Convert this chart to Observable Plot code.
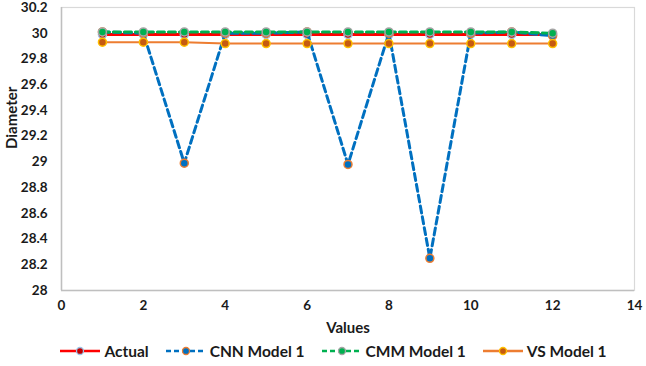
<!DOCTYPE html>
<html>
<head>
<meta charset="utf-8">
<script src="https://cdn.jsdelivr.net/npm/d3@7"></script>
<script src="https://cdn.jsdelivr.net/npm/@observablehq/plot@0.6"></script>
<style>
  html, body { margin: 0; padding: 0; background: #fff; }
  #chart { width: 646px; }
  .legend {
    display: flex; align-items: center; justify-content: center;
    height: 30px; margin-left: 36px;
    font-family: Lato, "Open Sans", sans-serif; font-weight: bold; font-size: 15.5px; color: #1a1a1a;
  }
  .legend .item { display: flex; align-items: center; margin-right: 16px; }
  .legend svg { margin-right: 3px; }
</style>
</head>
<body>
<div id="chart"></div>
<script>
// Sample index along the x axis
const samples = [1, 2, 3, 4, 5, 6, 7, 8, 9, 10, 11, 12];

// Measured / predicted diameters for each sample
const actual   = [29.99, 29.99, 29.99, 29.99, 29.99, 29.99, 29.99, 29.99, 29.99, 29.99, 29.99, 29.99];
const cnnModel = [30.01, 30.00, 28.99, 30.00, 30.00, 30.01, 28.98, 30.00, 28.25, 30.00, 30.01, 29.98];
const cmmModel = [30.01, 30.01, 30.01, 30.01, 30.01, 30.01, 30.01, 30.01, 30.01, 30.01, 30.01, 30.00];
const vsModel  = [29.93, 29.93, 29.93, 29.92, 29.92, 29.92, 29.92, 29.92, 29.92, 29.92, 29.92, 29.92];

const seriesNames = ["Actual", "CNN Model 1", "CMM Model 1", "VS Model 1"];
const xTicks = [0, 2, 4, 6, 8, 10, 12, 14];
const yTicks = [28, 28.2, 28.4, 28.6, 28.8, 29, 29.2, 29.4, 29.6, 29.8, 30, 30.2];

// Styling per series: line colour, dash, marker fill and marker outline
const styles = [
  {line: "#ff0000", width: 3,   dash: null,  fill: "#c00000", outline: "#9dc3e6"},
  {line: "#0070c0", width: 3,   dash: "7,4", fill: "#0070c0", outline: "#ed7d31"},
  {line: "#00b050", width: 3,   dash: "7,4", fill: "#00b050", outline: "#a5a5a5"},
  {line: "#ed7d31", width: 2.2, dash: null,  fill: "#c55a11", outline: "#ffc000"}
];

const values = [actual, cnnModel, cmmModel, vsModel];
const table = seriesNames.map((name, i) =>
  samples.map((s, j) => ({series: name, x: s, y: values[i][j]}))
);

const marks = [
  Plot.frame({stroke: "#d9d9d9", strokeWidth: 1.2}),
  Plot.ruleX([0], {stroke: "#bfbfbf", strokeWidth: 1.5}),
  Plot.ruleY([28], {stroke: "#bfbfbf", strokeWidth: 1.5}),
  Plot.axisX({ticks: xTicks, tickSize: 0, tickPadding: 10, tickFormat: d => String(d), label: null}),
  Plot.axisY({ticks: yTicks, tickSize: 0, tickPadding: 14, tickFormat: d => String(+d.toFixed(1)), label: null}),
  Plot.text(["Diameter"], {frameAnchor: "left", dx: -49, rotate: -90, fontSize: 15, fontWeight: "bold"}),
  Plot.text(["Values"], {frameAnchor: "bottom", dy: 42, fontSize: 15, fontWeight: "bold"})
];

table.forEach((rows, i) => {
  const st = styles[i];
  marks.push(Plot.line(rows, {x: "x", y: "y", stroke: st.line, strokeWidth: st.width, strokeDasharray: st.dash}));
  marks.push(Plot.dot(rows, {x: "x", y: "y", r: 4, fill: st.fill, stroke: st.outline, strokeWidth: 1.5}));
});

const chart = Plot.plot({
  width: 646,
  height: 336,
  marginLeft: 61,
  marginRight: 12,
  marginTop: 7,
  marginBottom: 46,
  x: {domain: [0, 14]},
  y: {domain: [28, 30.2]},
  style: {fontFamily: "Lato, 'Open Sans', sans-serif", fontSize: "13.5px", fontWeight: "bold", color: "#1a1a1a", background: "#fff"},
  marks
});

const host = document.getElementById("chart");
host.appendChild(chart);

// Legend below the plot
const legend = document.createElement("div");
legend.className = "legend";
seriesNames.forEach((name, i) => {
  const st = styles[i];
  const item = document.createElement("div");
  item.className = "item";
  const ns = "http://www.w3.org/2000/svg";
  const sw = document.createElementNS(ns, "svg");
  sw.setAttribute("width", 42); sw.setAttribute("height", 14);
  const ln = document.createElementNS(ns, "line");
  ln.setAttribute("x1", 1); ln.setAttribute("x2", 41); ln.setAttribute("y1", 7); ln.setAttribute("y2", 7);
  ln.setAttribute("stroke", st.line); ln.setAttribute("stroke-width", 2.5);
  if (st.dash) ln.setAttribute("stroke-dasharray", "5,3");
  const c = document.createElementNS(ns, "circle");
  c.setAttribute("cx", 21); c.setAttribute("cy", 7); c.setAttribute("r", 3.5);
  c.setAttribute("fill", st.fill); c.setAttribute("stroke", st.outline); c.setAttribute("stroke-width", 1.3);
  sw.appendChild(ln); sw.appendChild(c);
  const label = document.createElement("span");
  label.textContent = name;
  item.appendChild(sw); item.appendChild(label);
  legend.appendChild(item);
});
host.appendChild(legend);
</script>
</body>
</html>
